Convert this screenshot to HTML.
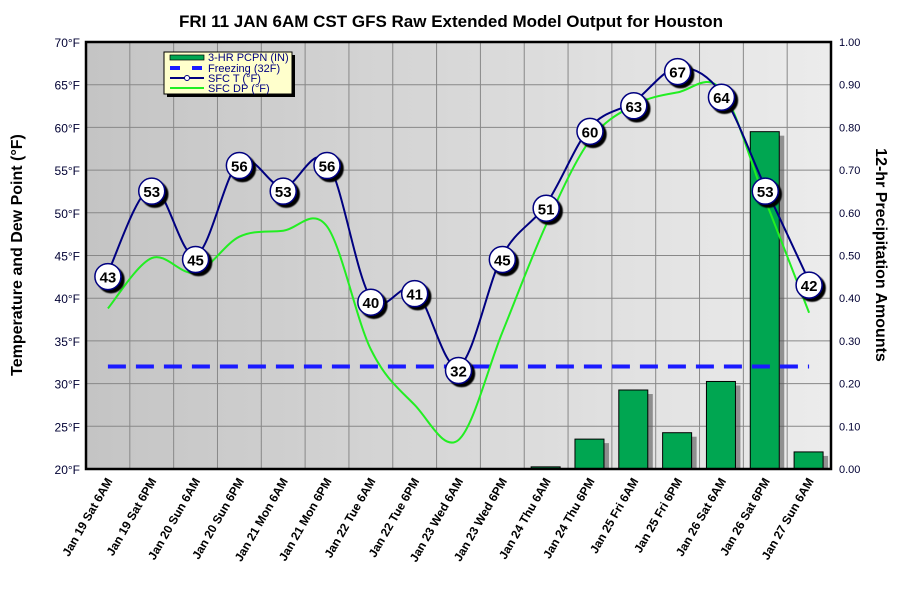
<!DOCTYPE html>
<html><head><meta charset="utf-8"><style>
body{margin:0;background:#fff;}
svg{display:block;font-family:"Liberation Sans",sans-serif;}
</style></head><body>
<svg id="c" width="903" height="613">
<defs>
<linearGradient id="bg" x1="0" y1="0" x2="1" y2="0"><stop offset="0" stop-color="#c4c4c4"/><stop offset="1" stop-color="#ececec"/></linearGradient>
<filter id="sh" x="-50%" y="-50%" width="200%" height="200%"><feDropShadow dx="3" dy="3" stdDeviation="0.5" flood-color="#000"/></filter>
</defs>
<text x="451" y="27" text-anchor="middle" font-size="17" font-weight="bold">FRI 11 JAN 6AM CST GFS Raw Extended Model Output for Houston</text>
<rect x="86" y="42" width="745" height="427" fill="url(#bg)"/>
<g id="grid"></g><g id="bars"></g><g id="lines"></g><g id="labels"></g>
<rect x="86" y="42" width="745" height="427" fill="none" stroke="#000" stroke-width="2.5"/>
<g id="axes"></g>
<text transform="translate(22,255) rotate(-90)" text-anchor="middle" font-size="16" font-weight="bold">Temperature and Dew Point (°F)</text>
<text transform="translate(876,255) rotate(90)" text-anchor="middle" font-size="16" font-weight="bold">12-hr Precipitation Amounts</text>
<g>
<rect x="167" y="55" width="128" height="42" fill="#000"/>
<rect x="164" y="52" width="128" height="42" fill="#ffffcc" stroke="#000"/>
<rect x="170" y="55" width="34" height="5" fill="#00a651" stroke="#000" stroke-width="0.7"/>
<text x="208" y="61" font-size="11" fill="#000080">3-HR PCPN (IN)</text>
<line x1="170" y1="68" x2="204" y2="68" stroke="#1a1aff" stroke-width="4" stroke-dasharray="10,12"/>
<text x="208" y="72" font-size="11" fill="#000080">Freezing (32F)</text>
<line x1="170" y1="78" x2="204" y2="78" stroke="#000080" stroke-width="2"/>
<circle cx="187" cy="78" r="2.5" fill="#fff" stroke="#000080"/>
<text x="208" y="82" font-size="11" fill="#000080">SFC T (°F)</text>
<line x1="170" y1="88" x2="204" y2="88" stroke="#22ee22" stroke-width="2"/>
<text x="208" y="92" font-size="11" fill="#000080">SFC DP (°F)</text>
</g>
</svg>
<script>
const categories=["Jan 19 Sat 6AM","Jan 19 Sat 6PM","Jan 20 Sun 6AM","Jan 20 Sun 6PM","Jan 21 Mon 6AM","Jan 21 Mon 6PM","Jan 22 Tue 6AM","Jan 22 Tue 6PM","Jan 23 Wed 6AM","Jan 23 Wed 6PM","Jan 24 Thu 6AM","Jan 24 Thu 6PM","Jan 25 Fri 6AM","Jan 25 Fri 6PM","Jan 26 Sat 6AM","Jan 26 Sat 6PM","Jan 27 Sun 6AM"];
const tempValues=[43,53,45,56,53,56,40,41,32,45,51,60,63,67,64,53,42];
const dewValues=[38.8,44.7,43,47.2,47.9,48.4,34,27.5,23.4,36,48.6,58.5,62.6,64.1,64.4,51.5,38.3];
const precipValues=[0,0,0,0,0,0,0,0,0,0,0.005,0.07,0.185,0.085,0.205,0.79,0.04];
const freezing=32;
const leftTicks=["20°F","25°F","30°F","35°F","40°F","45°F","50°F","55°F","60°F","65°F","70°F"];
const rightTicks=["0.00","0.10","0.20","0.30","0.40","0.50","0.60","0.70","0.80","0.90","1.00"];
const L=86,R=831,T=42,B=469,N=categories.length,step=(R-L)/N;
const xs=i=>L+step*(i+0.5);
const yT=v=>B-(v-20)/50*(B-T);
const yP=v=>B-v/1*(B-T);
const NS="http://www.w3.org/2000/svg";
function mk(tag,a,p,txt){const e=document.createElementNS(NS,tag);for(const k in a)e.setAttribute(k,a[k]);if(txt!==undefined)e.textContent=txt;document.getElementById(p).appendChild(e);return e;}
for(let i=0;i<leftTicks.length;i++){const y=yT(20+i*5);
const g=mk('line',{x1:L,x2:R,y1:y,y2:y,stroke:'#888','stroke-width':1},'grid');

const t=mk('text',{x:L-6,y:y+5,'text-anchor':'end','font-size':12,fill:'#000033'},'axes',leftTicks[i]);

const t2=mk('text',{x:R+8,y:yP(i/10)+4,'font-size':11,fill:'#000033'},'axes',rightTicks[i]);
}
for(let i=1;i<N;i++){const x=L+step*i;
const g=mk('line',{x1:x,x2:x,y1:T,y2:B,stroke:'#888','stroke-width':1},'grid');
}
categories.forEach((c,i)=>{const x=xs(i);
const t=mk('text',{transform:`translate(${x+5},${B+12}) rotate(-60)`,'text-anchor':'end','font-size':12,'font-weight':'bold'},'axes',c);

const v=precipValues[i];if(v>0){const y=yP(v);
mk('rect',{x:x-14+4,y:y+4,width:29,height:B-y-4,fill:'#555',opacity:0.6},'bars');
const b=mk('rect',{x:x-15,y:y,width:29,height:B-y,fill:'#00a651',stroke:'#000','stroke-width':1},'bars');
}});
function smooth(vals){const p=vals.map((v,i)=>[xs(i),yT(v)]);let d=`M${p[0][0]},${p[0][1]}`;
for(let i=0;i<p.length-1;i++){const p0=p[i-1]||p[i],p1=p[i],p2=p[i+1],p3=p[i+2]||p2;
d+=` C${p1[0]+(p2[0]-p0[0])/6},${p1[1]+(p2[1]-p0[1])/6} ${p2[0]-(p3[0]-p1[0])/6},${p2[1]-(p3[1]-p1[1])/6} ${p2[0]},${p2[1]}`;}return d;}
const fz=mk('line',{x1:xs(0),x2:xs(N-1),y1:yT(freezing),y2:yT(freezing),stroke:'#1a1aff','stroke-width':4,'stroke-dasharray':'18,10'},'lines');

const dl=mk('path',{d:smooth(dewValues),fill:'none',stroke:'#22ee22','stroke-width':2},'lines');

const tl=mk('path',{d:smooth(tempValues),fill:'none',stroke:'#000080','stroke-width':2},'lines');

tempValues.forEach((v,i)=>{const x=xs(i),y=yT(v)+4;
const c=mk('circle',{cx:x,cy:y,r:13,fill:'#fff',stroke:'#000080','stroke-width':1.5,filter:'url(#sh)'},'labels');

const t=mk('text',{x:x,y:y+6,'text-anchor':'middle','font-size':15,'font-weight':'bold'},'labels',v);
});
</script>
</body></html>
